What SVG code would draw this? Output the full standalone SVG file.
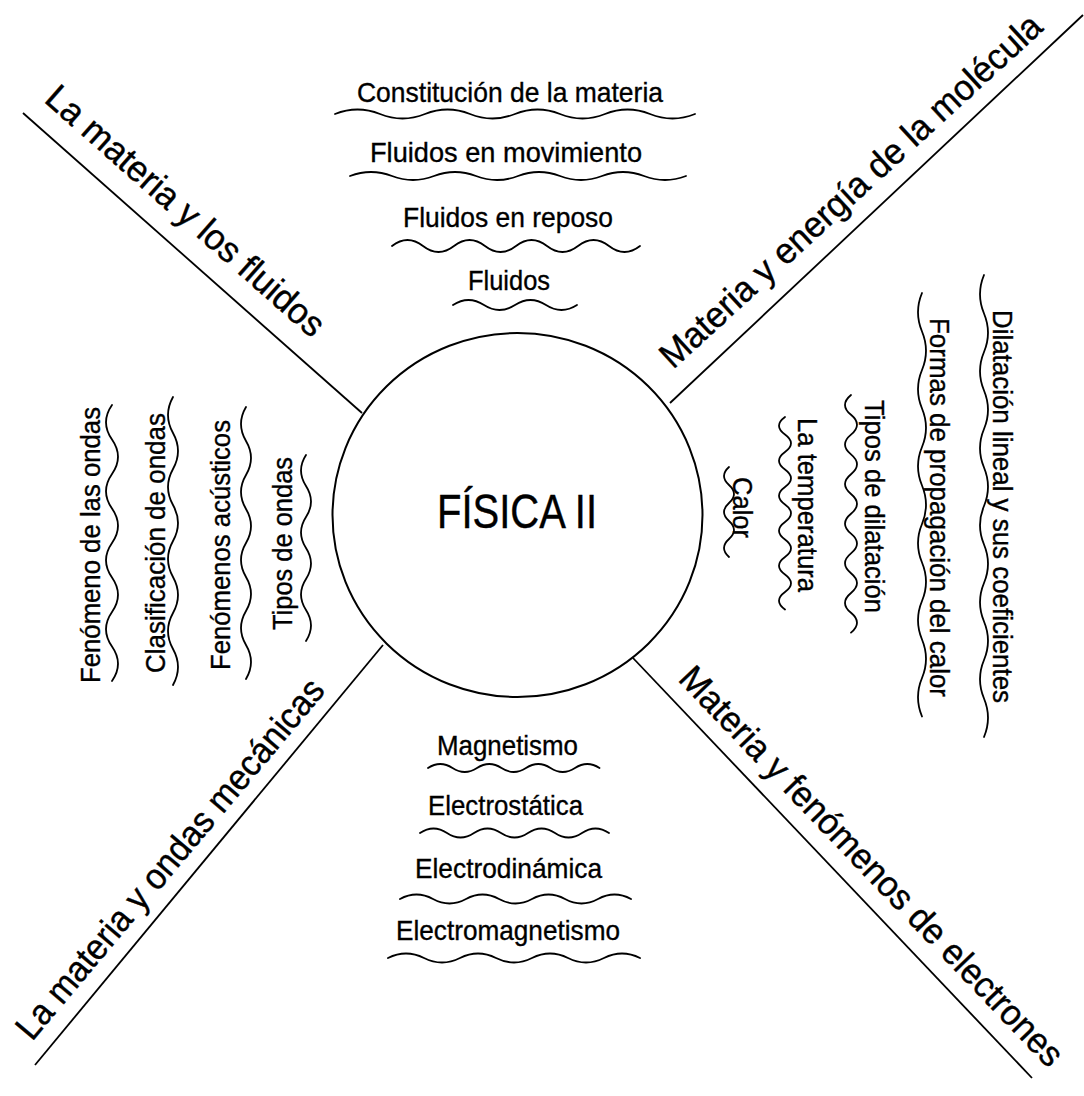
<svg xmlns="http://www.w3.org/2000/svg" width="1084" height="1096" viewBox="0 0 1084 1096">
<style>
.lbl{font-family:"Liberation Sans",Arial,Helvetica,sans-serif;font-size:28px;fill:#000;stroke:#000;stroke-width:0.35}
.big{font-family:"Liberation Sans",Arial,Helvetica,sans-serif;font-size:36px;fill:#000;stroke:#000;stroke-width:0.4}
.title{font-family:"Liberation Sans",Arial,Helvetica,sans-serif;font-size:48px;fill:#000;stroke:#000;stroke-width:0.4}
.wave{fill:none;stroke:#000;stroke-width:1.8;stroke-linecap:round}
.spoke{stroke:#000;stroke-width:1.8;fill:none}
</style>
<rect width="1084" height="1096" fill="#fff"/>
<g id="connectors">
<line class="spoke" x1="23" y1="113" x2="362" y2="413"/>
<line class="spoke" x1="670" y1="403" x2="1083" y2="15"/>
<line class="spoke" x1="35" y1="1065" x2="383" y2="645"/>
<line class="spoke" x1="633" y1="658" x2="1032" y2="1078"/>
</g>
<g id="center">
<ellipse cx="517.5" cy="515" rx="185" ry="182" fill="#fff" stroke="#000" stroke-width="2"/>
<text class="title" x="437" y="528" textLength="160" lengthAdjust="spacingAndGlyphs">FÍSICA II</text>
</g>
<g id="branch-fluidos">
<text class="big" transform="translate(43,101) rotate(41.5)" textLength="359" lengthAdjust="spacingAndGlyphs">La materia y los fluidos</text>
</g>
<g id="branch-molecula">
<text class="big" transform="translate(673,370) rotate(-42.5)" textLength="504" lengthAdjust="spacingAndGlyphs">Materia y energía de la molécula</text>
</g>
<g id="branch-ondas">
<text class="big" transform="translate(32,1042) rotate(-50)" textLength="458" lengthAdjust="spacingAndGlyphs">La materia y ondas mecánicas</text>
</g>
<g id="branch-electrones">
<text class="big" transform="translate(677,680) rotate(46.3)" textLength="538" lengthAdjust="spacingAndGlyphs">Materia y fenómenos de electrones</text>
</g>
<g id="top-constitucion">
<text class="lbl" x="357" y="102" textLength="306" lengthAdjust="spacingAndGlyphs">Constitución de la materia</text>
<path class="wave" d="M335 114 q22.5 -9 45 0 t45 0 t45 0 t45 0 t45 0 t45 0 t45 0 t45 0"/>
</g>
<g id="top-movimiento">
<text class="lbl" x="370" y="162" textLength="272" lengthAdjust="spacingAndGlyphs">Fluidos en movimiento</text>
<path class="wave" d="M350 176 q21 -8 42 0 t42 0 t42 0 t42 0 t42 0 t42 0 t42 0 t42 0"/>
</g>
<g id="top-reposo">
<text class="lbl" x="403" y="227" textLength="210" lengthAdjust="spacingAndGlyphs">Fluidos en reposo</text>
<path class="wave" d="M392 246 q15.5 -12 31 0 t31 0 t31 0 t31 0 t31 0 t31 0 t31 0 t31 0"/>
</g>
<g id="top-fluidos">
<text class="lbl" x="468" y="290" textLength="82" lengthAdjust="spacingAndGlyphs">Fluidos</text>
<path class="wave" d="M453 305 q15.5 -10 31 0 t31 0 t31 0 t31 0"/>
</g>
<g id="bottom-magnetismo">
<text class="lbl" x="437" y="755" textLength="141" lengthAdjust="spacingAndGlyphs">Magnetismo</text>
<path class="wave" d="M428 768 q12.25 -8 24.5 0 t24.5 0 t24.5 0 t24.5 0 t24.5 0 t24.5 0 t24.5 0"/>
</g>
<g id="bottom-electrostatica">
<text class="lbl" x="428" y="815" textLength="155" lengthAdjust="spacingAndGlyphs">Electrostática</text>
<path class="wave" d="M420 833 q13.5 -9 27 0 t27 0 t27 0 t27 0 t27 0 t27 0 t27 0"/>
</g>
<g id="bottom-electrodinamica">
<text class="lbl" x="415" y="878" textLength="187" lengthAdjust="spacingAndGlyphs">Electrodinámica</text>
<path class="wave" d="M400 899 q16.5 -9 33 0 t33 0 t33 0 t33 0 t33 0 t33 0 t33 0"/>
</g>
<g id="bottom-electromagnetismo">
<text class="lbl" x="396" y="940" textLength="224" lengthAdjust="spacingAndGlyphs">Electromagnetismo</text>
<path class="wave" d="M388 958 q18 -9 36 0 t36 0 t36 0 t36 0 t36 0 t36 0 t36 0"/>
</g>
<g id="left-fenomeno">
<text class="lbl" transform="translate(100,683) rotate(-90)" textLength="276" lengthAdjust="spacingAndGlyphs">Fenómeno de las ondas</text>
<path class="wave" d="M112 405 q-12 17.25 0 34.5 t0 34.5 t0 34.5 t0 34.5 t0 34.5 t0 34.5 t0 34.5 t0 34.5"/>
</g>
<g id="left-clasificacion">
<text class="lbl" transform="translate(165,673) rotate(-90)" textLength="260" lengthAdjust="spacingAndGlyphs">Clasificación de ondas</text>
<path class="wave" d="M173 397 q-10 18 0 36 t0 36 t0 36 t0 36 t0 36 t0 36 t0 36 t0 36"/>
</g>
<g id="left-acusticos">
<text class="lbl" transform="translate(230,670) rotate(-90)" textLength="250" lengthAdjust="spacingAndGlyphs">Fenómenos acústicos</text>
<path class="wave" d="M246 407 q-10 17 0 34 t0 34 t0 34 t0 34 t0 34 t0 34 t0 34 t0 34"/>
</g>
<g id="left-tipos">
<text class="lbl" transform="translate(292,630) rotate(-90)" textLength="173" lengthAdjust="spacingAndGlyphs">Tipos de ondas</text>
<path class="wave" d="M306 455 q-10 15.5 0 31 t0 31 t0 31 t0 31 t0 31 t0 31"/>
</g>
<g id="right-dilatacion-lineal">
<text class="lbl" transform="translate(993,310) rotate(90)" textLength="393" lengthAdjust="spacingAndGlyphs">Dilatación lineal y sus coeficientes</text>
<path class="wave" d="M984 275 q-8 19.25 0 38.5 t0 38.5 t0 38.5 t0 38.5 t0 38.5 t0 38.5 t0 38.5 t0 38.5 t0 38.5 t0 38.5 t0 38.5 t0 38.5"/>
</g>
<g id="right-formas">
<text class="lbl" transform="translate(930,318) rotate(90)" textLength="379" lengthAdjust="spacingAndGlyphs">Formas de propagación del calor</text>
<path class="wave" d="M922 293 q-8 19.25 0 38.5 t0 38.5 t0 38.5 t0 38.5 t0 38.5 t0 38.5 t0 38.5 t0 38.5 t0 38.5 t0 38.5 t0 38.5"/>
</g>
<g id="right-tipos-dilatacion">
<text class="lbl" transform="translate(865,400) rotate(90)" textLength="213" lengthAdjust="spacingAndGlyphs">Tipos de dilatación</text>
<path class="wave" d="M851 395 q-12 9.9 0 19.8 t0 19.8 t0 19.8 t0 19.8 t0 19.8 t0 19.8 t0 19.8 t0 19.8 t0 19.8 t0 19.8 t0 19.8 t0 19.8"/>
</g>
<g id="right-temperatura">
<text class="lbl" transform="translate(798,418) rotate(90)" textLength="174" lengthAdjust="spacingAndGlyphs">La temperatura</text>
<path class="wave" d="M785 417 q-12 8.75 0 17.5 t0 17.5 t0 17.5 t0 17.5 t0 17.5 t0 17.5 t0 17.5 t0 17.5 t0 17.5 t0 17.5 t0 17.5"/>
</g>
<g id="right-calor">
<text class="lbl" transform="translate(733,477) rotate(90)" textLength="61" lengthAdjust="spacingAndGlyphs">Calor</text>
<path class="wave" d="M729 467 q-10 9 0 18 t0 18 t0 18 t0 18 t0 18"/>
</g>
</svg>
